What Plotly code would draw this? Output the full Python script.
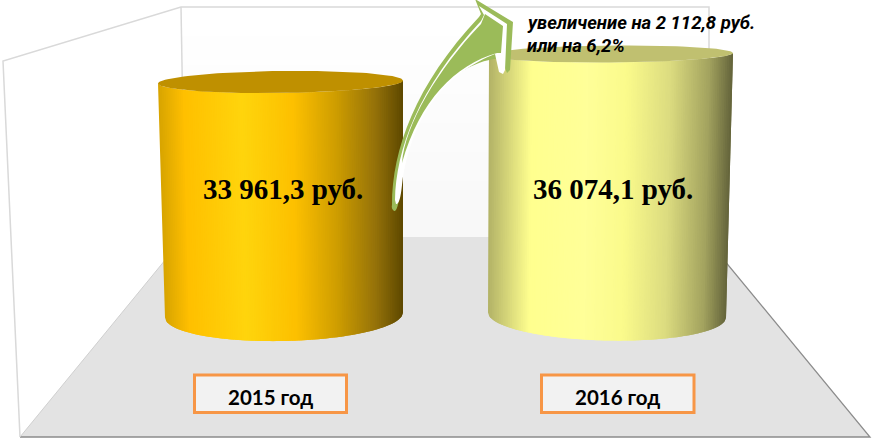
import numpy as np
import plotly.graph_objects as go

# Datos del grafico
anios = ['2015 год', '2016 год']
valores = [33961.3, 36074.1]
etiquetas = ['33 961,3 руб.', '36 074,1 руб.']
nota = ['увеличение на 2 112,8 руб.', 'или на 6,2%']

ANCHO, ALTO = 874, 441

# Eje Y en rublos (no empieza en cero), eje X en pixeles de la imagen
Y_MIN, Y_MAX = 6867, 40150
PX_POR_RUBLO = ALTO / (Y_MAX - Y_MIN)
BASE = 16376


def px_y(p):
    return Y_MIN + (ALTO - p) / PX_POR_RUBLO


# Geometria de cada cilindro (centro, radio, inclinacion en pixeles)
cilindros = [
    dict(cx_sup=280.5, rx_sup=122.5, ry_sup=11, inc_sup=-3, cx_inf=284, rx_inf=119, ry_inf=26, inc_inf=-5,
         tapa='#bf9000',
         paradas=[(0, '#d9a500'), (0.1, '#ffc000'), (0.34, '#ffd50d'), (0.55, '#fdc000'), (0.72, '#cf9e00'),
                  (0.88, '#96730a'), (1, '#5c4700')]),
    dict(cx_sup=611, rx_sup=122, ry_sup=8.5, inc_sup=-2, cx_inf=607, rx_inf=119, ry_inf=25.5, inc_inf=5,
         tapa='#c0c070',
         paradas=[(0, '#b4b468'), (0.17, '#ffff8f'), (0.4, '#ffff99'), (0.56, '#fbfb8c'), (0.74, '#dcdc80'),
                  (0.9, '#a3a35f'), (1, '#62623a')]),
]


def color_en(paradas, t):
    pos = [p[0] for p in paradas]
    rgb = [[int(p[1][i:i + 2], 16) for i in (1, 3, 5)] for p in paradas]
    return 'rgb(%d,%d,%d)' % tuple(np.interp(t, pos, [c[k] for c in rgb]) for k in range(3))


def curva(t, cx, rx, ry, inc, y0):
    # borde frontal de la elipse, en pixeles relativos a y0 (valor en rublos)
    x = cx + rx * t
    y = y0 - (ry * np.sqrt(np.clip(1 - t ** 2, 0, 1)) + inc * t / 2) / PX_POR_RUBLO
    return x, y


fig = go.Figure()

N = 130
for valor, c in zip(valores, cilindros):
    ts = np.linspace(-1, 1, N + 1)
    for i in range(N):
        a = np.linspace(ts[i], ts[min(i + 2, N)], 4)
        xs, ys = curva(a, c['cx_sup'], c['rx_sup'], c['ry_sup'], c['inc_sup'], valor)
        xi, yi = curva(a[::-1], c['cx_inf'], c['rx_inf'], c['ry_inf'], c['inc_inf'], BASE)
        fig.add_trace(go.Scatter(x=list(xs) + list(xi), y=list(ys) + list(yi), mode='lines', fill='toself',
                                 fillcolor=color_en(c['paradas'], (ts[i] + 1) / 2), line=dict(width=0),
                                 hoverinfo='skip', showlegend=False))
    # tapa superior
    ang = np.linspace(0, 2 * np.pi, 120)
    xt = c['cx_sup'] + c['rx_sup'] * np.cos(ang)
    yt = valor - (c['ry_sup'] * np.sin(ang) + c['inc_sup'] * np.cos(ang) / 2) / PX_POR_RUBLO
    fig.add_trace(go.Scatter(x=xt, y=yt, mode='lines', fill='toself', fillcolor=c['tapa'], line=dict(width=0),
                             hoverinfo='skip', showlegend=False))

shapes = []


def poligono(puntos, relleno=None, linea=None, grosor=0, capa='below'):
    d = 'M ' + ' L '.join('%g %g' % (x, px_y(y)) for x, y in puntos)
    if relleno:
        d += ' Z'
    shapes.append(dict(type='path', path=d, xref='x', yref='y', fillcolor=relleno or 'rgba(0,0,0,0)',
                       line=dict(color=linea or 'rgba(0,0,0,0)', width=grosor), layer=capa))


def trayecto(comandos, relleno):
    # comandos en pixeles: cada elemento es (letra, x1, y1, x2, y2, ...)
    partes = []
    for cmd in comandos:
        letra, nums = cmd[0], cmd[1:]
        pares = ['%g %g' % (nums[i], px_y(nums[i + 1])) for i in range(0, len(nums), 2)]
        partes.append(letra + ' ' + ' '.join(pares))
    shapes.append(dict(type='path', path=' '.join(partes) + ' Z', xref='x', yref='y', fillcolor=relleno,
                       line=dict(width=0), layer='above'))


# Pared del fondo con un degradado muy suave
for i in range(8):
    g = 255 - i
    poligono([(181, 7 + i * 29), (709, 7 + i * 29), (709, 7 + (i + 1) * 29), (181, 7 + (i + 1) * 29)],
             relleno='rgb(%d,%d,%d)' % (g, g, g))

# Suelo
poligono([(20, 437), (870, 437), (705, 237), (184, 237)], relleno='#e3e3e3')
poligono([(20, 437), (184, 237)], linea='#cfcfcf', grosor=1)
poligono([(705, 237), (870, 437), (20, 437)], linea='#8c8c8c', grosor=1.3)

# Lineas de las paredes
poligono([(20, 437), (3, 61), (181, 7), (709, 7), (709, 237)], linea='#d9d9d9', grosor=1.5)
poligono([(181, 7), (185, 237)], linea='#d9d9d9', grosor=1.5)

# Flecha curva: silueta verde, banda blanca y relleno verde
trayecto([('M', 392, 205), ('C', 392, 150, 415, 85, 479, 17), ('L', 481, 14), ('L', 475, -1), ('L', 513, 22),
          ('L', 510, 70), ('L', 507, 73), ('L', 501, 58), ('C', 455, 62, 410, 105, 400, 190),
          ('Q', 398, 212, 394, 211), ('Q', 391, 209, 392, 205)], '#9bbb59')
trayecto([('M', 395, 200), ('C', 396, 150, 418, 88, 481, 21), ('L', 484, 15), ('L', 479, 6), ('L', 507, 24),
          ('L', 505, 70), ('L', 503, 74), ('L', 499, 72), ('L', 495, 54), ('C', 450, 72, 412, 110, 402, 185),
          ('Q', 400, 205, 396, 204)], '#ffffff')
trayecto([('M', 402, 163), ('C', 405, 125, 437, 70, 481, 24), ('L', 485, 14), ('L', 503, 26), ('L', 501, 53),
          ('L', 497, 53), ('C', 455, 65, 420, 100, 402, 163)], '#9bbb59')

# Cajas de los anios
annots = []
cajas = [(194.5, 346.5), (541.5, 694)]
for anio, (x0, x1) in zip(anios, cajas):
    shapes.append(dict(type='rect', xref='x', yref='y', x0=x0, x1=x1, y0=px_y(375), y1=px_y(412.5),
                       fillcolor='#f2f2f2', line=dict(color='#f79646', width=3), layer='above'))
    annots.append(dict(x=(x0 + x1) / 2, y=px_y(397), text='<b>%s</b>' % anio, showarrow=False,
                       font=dict(family='Lato', size=20.5, color='black')))

# Valores sobre los cilindros
for etiqueta, xc in zip(etiquetas, [282.5, 613]):
    annots.append(dict(x=xc, y=px_y(189), text='<b>%s</b>' % etiqueta, showarrow=False,
                       font=dict(family='Liberation Serif', size=29, color='black')))

# Nota de la flecha
for linea, yp in zip(nota, [23, 46]):
    annots.append(dict(x=525, y=px_y(yp), xanchor='left', text='<b><i>%s</i></b>' % linea, showarrow=False,
                       font=dict(family='Roboto', size=18.5, color='black')))

fig.update_layout(
    width=ANCHO, height=ALTO,
    margin=dict(l=0, r=0, t=0, b=0),
    paper_bgcolor='white', plot_bgcolor='white',
    xaxis=dict(visible=False, range=[0, ANCHO], fixedrange=True),
    yaxis=dict(visible=False, range=[Y_MIN, Y_MAX], fixedrange=True),
    shapes=shapes, annotations=annots, showlegend=False,
)

fig.write_html('out.html', config=dict(displayModeBar=False),
               post_script="document.body.style.margin='0';")
